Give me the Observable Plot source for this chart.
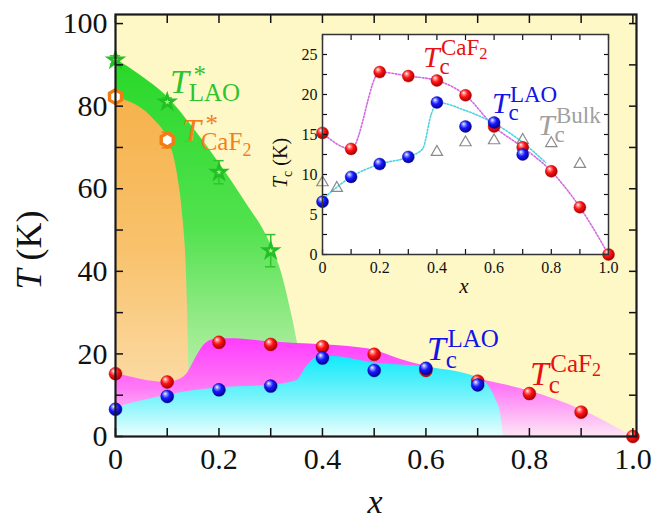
<!DOCTYPE html>
<html><head><meta charset="utf-8">
<script src="https://cdn.jsdelivr.net/npm/d3@7"></script>
<script src="https://cdn.jsdelivr.net/npm/@observablehq/plot@0.6"></script>
<style>
body{margin:0;background:#fff;}
#wrap{position:relative;width:655px;height:519px;overflow:hidden;}
#main{position:absolute;left:0;top:0;}
#inset{position:absolute;left:262px;top:24px;}
</style></head><body><div id="wrap"><div id="main"></div><div id="inset"></div></div>
<script>
const SERIF = "'Liberation Serif','Times New Roman',serif";

// ---- data ----
const xTcCaF2 = [0, 0.1, 0.2, 0.3, 0.4, 0.5, 0.6, 0.7, 0.8, 0.9, 1.0];
const tcCaF2  = [15.2, 13.2, 22.8, 22.3, 21.75, 19.9, 16.0, 13.4, 10.4, 5.9, 0];
const xTcLAO  = [0, 0.1, 0.2, 0.3, 0.4, 0.5, 0.6, 0.7];
const tcLAO   = [6.6, 9.7, 11.3, 12.2, 19.0, 16.0, 16.5, 12.5];
const xBulk   = [0, 0.05, 0.4, 0.5, 0.6, 0.7, 0.8, 0.9];
const tcBulk  = [9.0, 8.3, 12.8, 14.0, 14.25, 14.3, 13.9, 11.3];
const xStarLAO   = [0, 0.1, 0.2, 0.3];
const tStarLAO   = [91.2, 81.0, 64.0, 45.0];
const errStarLAO = [1.0, 1.0, 2.8, 3.9];
const xStarCaF2   = [0, 0.1];
const tStarCaF2   = [82.3, 71.8];
const errStarCaF2 = [0.8, 1.9];

// shaded region boundaries (main panel)
const bndStarCaF2X = [0, 0.04, 0.077, 0.1, 0.119, 0.131, 0.137, 0.1405, 0.142, 0.143];
const bndStarCaF2T = [82.0, 80.3, 76.4, 72.3, 64, 52, 40, 24, 14, 0];
const bndStarLAOX  = [0, 0.05, 0.1, 0.15, 0.2, 0.25, 0.3, 0.32, 0.337, 0.348, 0.355, 0.36];
const bndStarLAOT  = [91.5, 87.3, 82.3, 74.8, 66.3, 57, 46.5, 40, 31.5, 25, 19, 0];
const bndTcCaF2X = [0, 0.1, 0.12, 0.14, 0.155, 0.17, 0.185, 0.2, 0.23, 0.29, 0.35, 0.4, 0.45, 0.5, 0.55, 0.6, 0.7, 0.8, 0.9, 1.0];
const bndTcCaF2T = [15.3, 13.1, 13.6, 15.5, 19, 22, 23.3, 23.6, 23.7, 23.0, 22.5, 22.2, 21.8, 20.9, 18.7, 17.0, 14.0, 11.0, 6.5, 0];
const bndTcLAOX = [0, 0.1, 0.2, 0.3, 0.35, 0.37, 0.39, 0.42, 0.5, 0.6, 0.7, 0.72, 0.735, 0.745, 0.75];
const bndTcLAOT = [7.0, 10.0, 11.8, 12.4, 13.5, 17.0, 19.2, 19.4, 17.8, 16.8, 14.3, 12.5, 9.0, 5.0, 0];

// inset guide lines
const lineCaF2X = [0, 0.1, 0.2, 0.3, 0.4, 0.5, 0.6, 0.7, 0.8, 0.9, 1.0];
const lineCaF2T = [15.2, 13.2, 22.8, 22.3, 21.75, 19.9, 16.0, 13.4, 10.4, 5.9, 0];
const lineLAOX  = [0, 0.1, 0.2, 0.3, 0.35, 0.38, 0.4, 0.5, 0.6, 0.7, 0.78];
const lineLAOT  = [6.9, 9.7, 11.3, 12.2, 13.2, 17.5, 19.0, 18.0, 16.4, 14.0, 11.5];

// ticks
const mainXTicks  = [0, 0.1, 0.2, 0.3, 0.4, 0.5, 0.6, 0.7, 0.8, 0.9, 1.0];
const mainXLabels = [0, 0.2, 0.4, 0.6, 0.8, 1.0];
const mainYTicks  = [0, 10, 20, 30, 40, 50, 60, 70, 80, 90, 100];
const mainYLabels = [0, 20, 40, 60, 80, 100];
const insXTicks   = [0, 0.1, 0.2, 0.3, 0.4, 0.5, 0.6, 0.7, 0.8, 0.9, 1.0];
const insXLabels  = [0, 0.2, 0.4, 0.6, 0.8, 1.0];
const insYTicks   = [0, 2.5, 5, 7.5, 10, 12.5, 15, 17.5, 20, 22.5, 25];
const insYLabels  = [0, 5, 10, 15, 20, 25];

// labels
const mainLabels = [
  {x: 0.1063, y: 83.1, color: "#2ec42e", sup: "*", sub: "LAO"},
  {x: 0.1295, y: 71.2, color: "#f47f1a", sup: "*", sub: "CaF", subSub: "2"},
  {x: 0.603, y: 18.4, color: "#1414e6", sub: "c", sup: "LAO"},
  {x: 0.802, y: 12.35, color: "#e81010", sub: "c", sup: "CaF", supSub: "2"}
];
const insetLabels = [
  {x: 0.353, y: 23.4, color: "#e81010", sub: "c", sup: "CaF", supSub: "2"},
  {x: 0.594, y: 17.6, color: "#1414e6", sub: "c", sup: "LAO"},
  {x: 0.755, y: 14.9, color: "#a0a0a0", sub: "c", sup: "Bulk"}
];

// ---- helpers ----
const NS = "http://www.w3.org/2000/svg";
function el(tag, attrs = {}, txt) {
  const e = document.createElementNS(NS, tag);
  for (const k in attrs) e.setAttribute(k, attrs[k]);
  if (txt != null) e.textContent = txt;
  return e;
}
const pts = (X, Y) => X.map((x, i) => ({x, y: Y[i]}));

function defsMark() {
  return () => {
    const d = el("defs");
    d.innerHTML = `
      <linearGradient id="gGreen" x1="0" y1="0" x2="0" y2="1">
        <stop offset="0" stop-color="#28d828"/><stop offset="0.45" stop-color="#52e24f"/>
        <stop offset="0.75" stop-color="#a2ec94"/><stop offset="1" stop-color="#d2f5c0"/></linearGradient>
      <linearGradient id="gOrange" x1="0" y1="0" x2="0" y2="1">
        <stop offset="0" stop-color="#f6b24c"/><stop offset="0.45" stop-color="#f8c26c"/>
        <stop offset="0.8" stop-color="#fbd79c"/><stop offset="1" stop-color="#fde2b2"/></linearGradient>
      <linearGradient id="gMag" x1="0" y1="0" x2="0" y2="1">
        <stop offset="0" stop-color="#ff3cff"/><stop offset="0.5" stop-color="#ff78f6"/>
        <stop offset="1" stop-color="#fde6f5"/></linearGradient>
      <linearGradient id="gCyan" x1="0" y1="0" x2="0" y2="1">
        <stop offset="0" stop-color="#10eafc"/><stop offset="0.55" stop-color="#7ef4fb"/>
        <stop offset="1" stop-color="#eafefe"/></linearGradient>
      <radialGradient id="ballRed" cx="0.42" cy="0.4" r="0.62" fx="0.34" fy="0.28">
        <stop offset="0" stop-color="#ffffff"/><stop offset="0.2" stop-color="#ff8a8a"/>
        <stop offset="0.5" stop-color="#ff1212"/><stop offset="1" stop-color="#a00000"/></radialGradient>
      <radialGradient id="ballBlue" cx="0.42" cy="0.4" r="0.62" fx="0.34" fy="0.28">
        <stop offset="0" stop-color="#ffffff"/><stop offset="0.2" stop-color="#8a94ff"/>
        <stop offset="0.5" stop-color="#1818ff"/><stop offset="1" stop-color="#00008c"/></radialGradient>`;
    return d;
  };
}

function sciLabels(labels, T, S) {
  return (index, {x, y}) => {
    const g = el("g", {"font-family": SERIF, "text-anchor": "start"});
    for (const L of labels) {
      const px = x(L.x), py = y(L.y);
      g.append(el("text", {x: px, y: py, "font-size": T, "font-style": "italic", fill: L.color}, "T"));
      const ox = px + T * 0.55;
      if (L.sub) {
        const t = el("text", {x: ox, y: py + T * 0.24, "font-size": S, fill: L.color}, L.sub);
        if (L.subSub) t.append(el("tspan", {dy: S * 0.22, "font-size": S * 0.72}, L.subSub));
        g.append(t);
      }
      if (L.sup) {
        const star = L.sup === "*";
        const t = el("text", {x: ox + (star ? T * 0.14 : T * 0.05), y: py - (star ? T * 0.28 : T * 0.38), "font-size": S, fill: L.color}, L.sup);
        if (L.supSub) t.append(el("tspan", {dy: S * 0.14, "font-size": S * 0.72}, L.supSub));
        g.append(t);
      }
    }
    return g;
  };
}

// ---- main panel ----
const main = Plot.plot({
  width: 655, height: 519,
  marginLeft: 115, marginRight: 19, marginTop: 14, marginBottom: 83,
  style: {fontFamily: SERIF, background: "transparent", color: "#111"},
  x: {domain: [0, 1.007]},
  y: {domain: [0, 102.2]},
  marks: [
    defsMark(),
    Plot.frame({fill: "#fdf8c6", stroke: null}),
    Plot.areaY(pts(bndStarLAOX, bndStarLAOT), {x: "x", y: "y", fill: "url(#gGreen)", curve: "monotone-x"}),
    Plot.areaY(pts(bndStarCaF2X, bndStarCaF2T), {x: "x", y: "y", fill: "url(#gOrange)", curve: "monotone-x"}),
    Plot.areaY(pts(bndTcCaF2X, bndTcCaF2T), {x: "x", y: "y", fill: "url(#gMag)", curve: "monotone-x"}),
    Plot.areaY(pts(bndTcLAOX, bndTcLAOT), {x: "x", y: "y", fill: "url(#gCyan)", curve: "monotone-x"}),
    // error bars
    Plot.ruleX(xStarLAO.map((x, i) => ({x, lo: tStarLAO[i] - errStarLAO[i], hi: tStarLAO[i] + errStarLAO[i]})),
      {x: "x", y1: "lo", y2: "hi", stroke: "#2ec42e", strokeWidth: 1.5}),
    Plot.ruleY(xStarLAO.flatMap((x, i) => [{x, y: tStarLAO[i] - errStarLAO[i]}, {x, y: tStarLAO[i] + errStarLAO[i]}]),
      {y: "y", x1: d => d.x - 0.01, x2: d => d.x + 0.01, stroke: "#2ec42e", strokeWidth: 1.5}),
    Plot.ruleX(xStarCaF2.map((x, i) => ({x, lo: tStarCaF2[i] - errStarCaF2[i], hi: tStarCaF2[i] + errStarCaF2[i]})),
      {x: "x", y1: "lo", y2: "hi", stroke: "#f47f1a", strokeWidth: 1.5}),
    Plot.ruleY(xStarCaF2.flatMap((x, i) => [{x, y: tStarCaF2[i] - errStarCaF2[i]}, {x, y: tStarCaF2[i] + errStarCaF2[i]}]),
      {y: "y", x1: d => d.x - 0.01, x2: d => d.x + 0.01, stroke: "#f47f1a", strokeWidth: 1.5}),
    Plot.dot(pts(xStarLAO, tStarLAO), {x: "x", y: "y", symbol: "star", r: 4.3, fill: "#a8ee98", stroke: "#22c022", strokeWidth: 2.6}),
    Plot.dot(pts(xStarCaF2, tStarCaF2), {x: "x", y: "y", symbol: "hexagon", r: 6, fill: "#ffffff", stroke: "#f47a12", strokeWidth: 3.4}),
    Plot.dot(pts(xTcCaF2, tcCaF2), {x: "x", y: "y", r: 6.5, fill: "url(#ballRed)", stroke: "#b00000", strokeWidth: 0.4}),
    Plot.dot(pts(xTcLAO, tcLAO), {x: "x", y: "y", r: 6.5, fill: "url(#ballBlue)", stroke: "#000090", strokeWidth: 0.4}),
    sciLabels(mainLabels, 34, 25),
    // axes: inward ticks on all sides
    Plot.axisX(mainXTicks, {anchor: "bottom", tickSize: -8, tickFormat: () => "", label: null, strokeWidth: 1.5}),
    Plot.axisX(mainXTicks, {anchor: "top", tickSize: -8, tickFormat: () => "", label: null, strokeWidth: 1.5}),
    Plot.axisY(mainYTicks, {anchor: "left", tickSize: -8, tickFormat: () => "", label: null, strokeWidth: 1.5}),
    Plot.axisY(mainYTicks, {anchor: "right", tickSize: -8, tickFormat: () => "", label: null, strokeWidth: 1.5}),
    Plot.axisX(mainXLabels, {anchor: "bottom", tickSize: 0, tickPadding: 11, fontSize: 30, fontFamily: SERIF, label: null,
      tickFormat: d => d === 0 ? "0" : d.toFixed(1)}),
    Plot.axisY(mainYLabels, {anchor: "left", tickSize: 0, tickPadding: 8, fontSize: 30, fontFamily: SERIF, label: null}),
    (index, s, v, dim) => {
      const g = el("g", {"font-family": SERIF, fill: "#111"});
      g.append(el("text", {x: 375, y: 513, "font-size": 34, "font-style": "italic", "text-anchor": "middle"}, "x"));
      const t = el("text", {transform: "translate(41,250) rotate(-90)", "font-size": 36, "text-anchor": "middle"});
      t.append(el("tspan", {"font-style": "italic"}, "T"));
      t.append(el("tspan", {}, " (K)"));
      g.append(t);
      return g;
    },
    Plot.frame({stroke: "#1a1a1a", strokeWidth: 2.2})
  ]
});
document.getElementById("main").append(main);

// ---- inset ----
const inset = Plot.plot({
  width: 360, height: 280,
  marginLeft: 60, marginRight: 14, marginTop: 10, marginBottom: 50,
  style: {fontFamily: SERIF, background: "transparent", color: "#111"},
  x: {domain: [0, 1.0]},
  y: {domain: [0, 27.5]},
  marks: [
    Plot.frame({fill: "#ffffff", stroke: null}),
    Plot.line(pts(lineCaF2X, lineCaF2T), {x: "x", y: "y", stroke: "#d46ae0", strokeWidth: 1.6, strokeDasharray: "1.6,1.8", curve: "monotone-x"}),
    Plot.line(pts(lineLAOX, lineLAOT), {x: "x", y: "y", stroke: "#4fd3e3", strokeWidth: 1.6, strokeDasharray: "1.6,1.8", curve: "monotone-x"}),
    Plot.dot(pts(xBulk, tcBulk), {x: "x", y: "y", symbol: "triangle", r: 4.2, fill: "none", stroke: "#8a8a8a", strokeWidth: 1.2}),
    Plot.dot(pts(xTcCaF2, tcCaF2), {x: "x", y: "y", r: 6, fill: "url(#ballRed)", stroke: "#b00000", strokeWidth: 0.4}),
    Plot.dot(pts(xTcLAO, tcLAO), {x: "x", y: "y", r: 6, fill: "url(#ballBlue)", stroke: "#000090", strokeWidth: 0.4}),
    sciLabels(insetLabels, 30, 23),
    Plot.axisX(insXTicks, {anchor: "bottom", tickSize: -5, tickFormat: () => "", label: null, strokeWidth: 1.2}),
    Plot.axisX(insXTicks, {anchor: "top", tickSize: -5, tickFormat: () => "", label: null, strokeWidth: 1.2}),
    Plot.axisY(insYTicks, {anchor: "left", tickSize: -5, tickFormat: () => "", label: null, strokeWidth: 1.2}),
    Plot.axisY(insYTicks, {anchor: "right", tickSize: -5, tickFormat: () => "", label: null, strokeWidth: 1.2}),
    Plot.axisX(insXLabels, {anchor: "bottom", tickSize: 0, tickPadding: 7, fontSize: 16, fontFamily: SERIF, label: null,
      tickFormat: d => d === 0 ? "0" : d.toFixed(1)}),
    Plot.axisY(insYLabels, {anchor: "left", tickSize: 0, tickPadding: 5, fontSize: 16, fontFamily: SERIF, label: null}),
    (index, s, v, dim) => {
      const g = el("g", {"font-family": SERIF, fill: "#111"});
      g.append(el("text", {x: 202, y: 269, "font-size": 21, "font-style": "italic", "text-anchor": "middle"}, "x"));
      const t = el("text", {transform: "translate(25,139) rotate(-90)", "font-size": 20, "text-anchor": "middle"});
      t.append(el("tspan", {"font-style": "italic"}, "T"));
      t.append(el("tspan", {dy: 5, "font-size": 14}, "c"));
      t.append(el("tspan", {dy: -5}, " (K)"));
      g.append(t);
      return g;
    },
    Plot.frame({stroke: "#333", strokeWidth: 1.5})
  ]
});
document.getElementById("inset").append(inset);
</script></body></html>
